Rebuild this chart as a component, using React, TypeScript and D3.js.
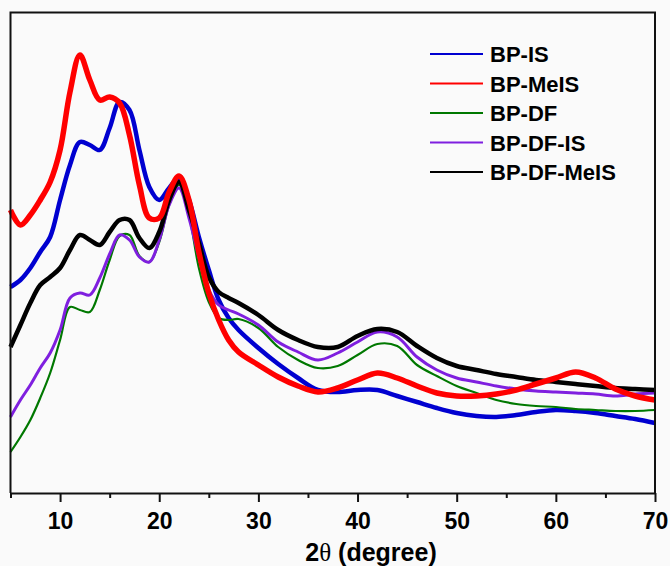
import React, { useRef, useEffect } from "react";
import * as d3 from "d3";

// 2θ sampling (degree)
const angles = [
  5, 6, 7, 8, 9, 10, 11, 12, 13, 14, 15, 16, 17, 18, 19, 20, 21, 22, 23, 24, 25,
  26, 27, 28, 30, 32, 34, 36, 38, 40, 42, 44, 46, 48, 50, 52, 54, 56, 58, 60, 62,
  64, 66, 68, 70,
];

// intensities (a.u.)
const bpIS = [
  206, 213, 225, 241, 256, 293, 328, 351, 348, 343, 365, 391, 383, 343, 306, 293,
  305, 315, 293, 256, 223, 193, 175, 163, 145, 129, 115, 103, 101, 103, 103, 97,
  91, 85, 80, 77, 76, 78, 81, 83, 82, 80, 77, 74, 70,
];
const bpMeIS = [
  283, 268, 278, 293, 311, 343, 401, 438, 413, 393, 396, 390, 358, 308, 275, 275,
  301, 317, 293, 241, 200, 173, 153, 141, 128, 116, 107, 101, 105, 113, 120, 115,
  107, 100, 97, 97, 99, 103, 109, 115, 121, 115, 104, 97, 93,
];
const bpDF = [
  41, 56, 73, 95, 120, 153, 186, 183, 181, 203, 233, 257, 258, 237, 231, 251, 288,
  308, 278, 225, 191, 175, 173, 174, 165, 146, 133, 125, 127, 138, 149, 147, 128,
  117, 107, 100, 93, 89, 87, 86, 84, 83, 82, 82, 83,
];
const bpDFIS = [
  76, 93, 108, 125, 140, 163, 195, 200, 198, 215, 239, 258, 253, 236, 231, 253,
  288, 305, 275, 236, 203, 188, 183, 179, 168, 151, 141, 133, 140, 151, 161, 156,
  136, 123, 115, 111, 107, 104, 102, 101, 100, 99, 97, 99, 100,
];
const bpDFMeIS = [
  146, 168, 190, 208, 216, 225, 243, 258, 253, 248, 261, 273, 273, 255, 245, 261,
  293, 311, 283, 250, 216, 201, 195, 190, 178, 163, 153, 146, 146, 157, 164, 161,
  147, 135, 127, 123, 119, 116, 113, 111, 109, 107, 105, 104, 103,
];

const seriesNames = ["BP-IS", "BP-MeIS", "BP-DF", "BP-DF-IS", "BP-DF-MeIS"];
const seriesValues = [bpIS, bpMeIS, bpDF, bpDFIS, bpDFMeIS];
const majorTicks = [10, 20, 30, 40, 50, 60, 70];
const minorTicks = [5, 15, 25, 35, 45, 55, 65];

const colors = ["#0000d0", "#ff0000", "#007800", "#7f1fdf", "#000000"];
const widths = [4.5, 5.5, 2.2, 3, 4.5];
const drawOrder = [0, 2, 3, 4, 1];

const W = 670;
const H = 566;
const FONT = "'Liberation Sans', Arial, sans-serif";

const App = () => {
  const svgRef = useRef(null);

  useEffect(() => {
    const svg = d3.select(svgRef.current);
    svg.selectAll("*").remove();

    const left = 10.5;
    const right = 655;
    const top = 12.5;
    const bottom = 493;

    const x = d3.scaleLinear().domain([5, 70]).range([left, right]);
    const y = d3.scaleLinear().domain([0, 480.5]).range([bottom, top]);

    svg.append("rect").attr("width", W).attr("height", H).attr("fill", "#fafafa");

    const line = d3
      .line()
      .x((d) => x(d[0]))
      .y((d) => y(d[1]))
      .curve(d3.curveCatmullRom.alpha(0.5));

    drawOrder.forEach((i) => {
      const pts = angles.map((a, k) => [a, seriesValues[i][k]]);
      svg
        .append("path")
        .datum(pts)
        .attr("d", line)
        .attr("fill", "none")
        .attr("stroke", colors[i])
        .attr("stroke-width", widths[i])
        .attr("stroke-linejoin", "round");
    });

    // frame (left, top, right)
    svg
      .append("path")
      .attr("d", `M${left},${bottom}V${top}H${right}V${bottom}`)
      .attr("fill", "none")
      .attr("stroke", "#111")
      .attr("stroke-width", 2);

    // x axis
    const gx = svg.append("g").attr("transform", `translate(0,${bottom})`);
    gx.call(
      d3.axisBottom(x).tickValues(majorTicks).tickSize(9).tickSizeOuter(0).tickFormat(d3.format("d"))
    );
    gx.select(".domain").attr("stroke", "#111").attr("stroke-width", 2);
    gx.selectAll(".tick line").attr("stroke", "#111").attr("stroke-width", 2);
    gx.selectAll(".tick text")
      .attr("y", 36)
      .attr("dy", 0)
      .attr("fill", "#000")
      .style("font-family", FONT)
      .style("font-weight", "bold")
      .style("font-size", "23px");

    const gm = svg.append("g").attr("transform", `translate(0,${bottom})`);
    gm.call(d3.axisBottom(x).tickValues(minorTicks).tickSize(5).tickSizeOuter(0).tickFormat(() => ""));
    gm.select(".domain").remove();
    gm.selectAll(".tick line").attr("stroke", "#111").attr("stroke-width", 2);

    // axis title
    const title = svg
      .append("text")
      .attr("x", 371)
      .attr("y", 561)
      .attr("text-anchor", "middle")
      .style("font-family", FONT)
      .style("font-weight", "bold")
      .style("font-size", "25px");
    title.append("tspan").text("2");
    title
      .append("tspan")
      .style("font-family", "'Liberation Serif', serif")
      .style("font-weight", "normal")
      .text("θ");
    title.append("tspan").text(" (degree)");

    // legend
    const lg = svg.append("g");
    seriesNames.forEach((name, i) => {
      const ly = 54 + i * 29.5;
      lg.append("line")
        .attr("x1", 430)
        .attr("x2", 483)
        .attr("y1", ly)
        .attr("y2", ly)
        .attr("stroke", colors[i])
        .attr("stroke-width", 2);
      lg.append("text")
        .attr("x", 490)
        .attr("y", ly + 8)
        .style("font-family", FONT)
        .style("font-weight", "bold")
        .style("font-size", "22px")
        .text(name);
    });
  }, []);

  return (
    <div style={{ position: "absolute", left: 0, top: 0 }}>
      <svg ref={svgRef} width={W} height={H} style={{ display: "block" }}></svg>
    </div>
  );
};

export default App;
